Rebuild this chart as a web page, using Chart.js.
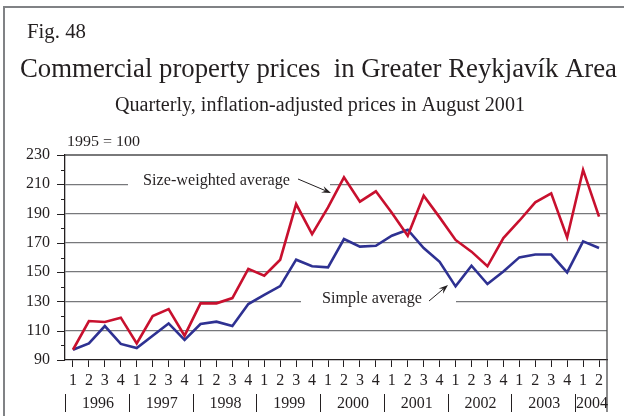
<!DOCTYPE html>
<html>
<head>
<meta charset="utf-8">
<script src="https://cdn.jsdelivr.net/npm/chart.js@4.4.1/dist/chart.umd.min.js"></script>
<style>
  html, body { margin: 0; padding: 0; background: #fff; }
  canvas { display: block; }
</style>
</head>
<body>
<canvas id="priceChart" width="624" height="416"></canvas>
<script>
// quarters 1996 Q1 .. 2004 Q2
var quarters = ['1','2','3','4','1','2','3','4','1','2','3','4','1','2','3','4',
                '1','2','3','4','1','2','3','4','1','2','3','4','1','2','3','4','1','2'];
var years = ['1996','1997','1998','1999','2000','2001','2002','2003','2004'];

var sizeWeighted = [97, 116.6, 116, 118.9, 101.3, 120, 124.8, 106.6, 128.7, 128.7, 132.3, 152.2,
                    147.6, 158.5, 196.5, 176, 194.2, 214.7, 198.1, 205.2, 190.6, 174.9, 202.2, 187.4,
                    172, 164, 154, 173.3, 185.1, 197.7, 203.8, 173.7, 219.8, 187.9];
var simpleAvg = [97, 101.3, 113.2, 101, 98.2, 106.6, 115, 103.7, 114.6, 116.2, 113.2, 128.2,
                 134.4, 140.5, 158.5, 154, 153.3, 172.6, 167.4, 168, 174.9, 179, 166.5, 157.1,
                 140.3, 154.4, 141.9, 150.5, 160.1, 162, 162, 149.8, 171, 166.5];

var yMin = 90, yMax = 230;

var serif = "'Liberation Serif', 'Times New Roman', serif";
var txtColor = '#231f20';
var gridColor = '#77787b';

// draws text, optionally squeezed/stretched to a given width
function label(ctx, str, x, y, size, align, fitWidth) {
  ctx.save();
  ctx.font = size + 'px ' + serif;
  ctx.fillStyle = txtColor;
  ctx.textBaseline = 'alphabetic';
  ctx.textAlign = align || 'left';
  ctx.translate(x, y);
  if (fitWidth) ctx.scale(fitWidth / ctx.measureText(str).width, 1);
  ctx.fillText(str, 0, 0);
  ctx.restore();
}

function arrow(ctx, x1, y1, x2, y2) {
  var a = Math.atan2(y2 - y1, x2 - x1);
  ctx.save();
  ctx.strokeStyle = txtColor;
  ctx.fillStyle = txtColor;
  ctx.lineWidth = 1;
  ctx.beginPath();
  ctx.moveTo(x1, y1);
  ctx.lineTo(x2 - 6 * Math.cos(a), y2 - 6 * Math.sin(a));
  ctx.stroke();
  ctx.beginPath();
  ctx.moveTo(x2, y2);
  ctx.lineTo(x2 - 10 * Math.cos(a - 0.35), y2 - 10 * Math.sin(a - 0.35));
  ctx.lineTo(x2 - 6 * Math.cos(a), y2 - 6 * Math.sin(a));
  ctx.lineTo(x2 - 10 * Math.cos(a + 0.35), y2 - 10 * Math.sin(a + 0.35));
  ctx.closePath();
  ctx.fill();
  ctx.restore();
}

var decor = {
  id: 'decor',
  beforeDatasetsDraw: function(chart) {
    var ctx = chart.ctx, y = chart.scales.y;
    // gaps in the grid lines behind the series labels
    ctx.save();
    ctx.fillStyle = '#fff';
    ctx.fillRect(128, y.getPixelForValue(210) - 2, 202, 4);
    ctx.fillRect(301, y.getPixelForValue(130) - 2, 155, 4);
    ctx.restore();
  },
  afterDraw: function(chart) {
    var ctx = chart.ctx, a = chart.chartArea;
    var x = chart.scales.x, y = chart.scales.y;

    ctx.save();
    // outer frame
    ctx.strokeStyle = '#808285';
    ctx.lineWidth = 2;
    ctx.beginPath();
    ctx.moveTo(4, 416);
    ctx.lineTo(4, 7);
    ctx.lineTo(624, 7);
    ctx.stroke();

    // plot box top and right (right runs down through the year row)
    ctx.strokeStyle = '#4d4d4f';
    ctx.lineWidth = 1.3;
    ctx.beginPath();
    ctx.moveTo(a.left, a.top);
    ctx.lineTo(a.right, a.top);
    ctx.lineTo(a.right, 412);
    ctx.stroke();

    // y tick marks, long on labelled values
    ctx.strokeStyle = txtColor;
    ctx.lineWidth = 1;
    for (var v = yMin; v <= yMax; v += 10) {
      var py = Math.round(y.getPixelForValue(v)) + 0.5;
      var len = (v - yMin) % 20 === 0 ? 8 : 4;
      ctx.beginPath();
      ctx.moveTo(a.left - len, py);
      ctx.lineTo(a.left, py);
      ctx.stroke();
    }

    // year separators and labels
    for (var k = 0; k < years.length; k++) {
      var i0 = k * 4;
      var left = k === 0 ? a.left : (x.getPixelForValue(i0 - 1) + x.getPixelForValue(i0)) / 2;
      var i1 = Math.min(i0 + 4, quarters.length);
      var right = i1 >= quarters.length ? a.right : (x.getPixelForValue(i1 - 1) + x.getPixelForValue(i1)) / 2;
      ctx.beginPath();
      ctx.moveTo(Math.round(left) + 0.5, 394);
      ctx.lineTo(Math.round(left) + 0.5, 412);
      ctx.stroke();
      label(ctx, years[k], (left + right) / 2 + 1, 408, 16, 'center');
    }
    ctx.restore();

    // headings
    label(ctx, 'Fig. 48', 27, 38, 22, 'left', 59);
    label(ctx, 'Commercial property prices  in Greater Reykjavík Area', 20, 77, 28, 'left', 597);
    label(ctx, 'Quarterly, inflation-adjusted prices in August 2001', 115, 111, 20, 'left', 410);
    label(ctx, '1995 = 100', 67, 146, 14, 'left', 73);

    // series labels
    label(ctx, 'Size-weighted average', 143, 185, 17, 'left', 147);
    arrow(ctx, 298, 179, 331, 193);
    label(ctx, 'Simple average', 322, 303, 17, 'left', 100);
    arrow(ctx, 429, 301, 448, 285);
  }
};

new Chart(document.getElementById('priceChart'), {
  type: 'line',
  data: {
    labels: quarters,
    datasets: [
      { label: 'Size-weighted average', data: sizeWeighted, borderColor: '#c8102e',
        borderWidth: 2.6, pointRadius: 0, tension: 0 },
      { label: 'Simple average', data: simpleAvg, borderColor: '#2e3192',
        borderWidth: 2.6, pointRadius: 0, tension: 0 }
    ]
  },
  options: {
    responsive: false,
    animation: false,
    layout: { padding: { top: 155, right: 17, left: 0, bottom: 0 } },
    plugins: { legend: { display: false }, tooltip: { enabled: false } },
    scales: {
      x: {
        offset: true,
        grid: { drawOnChartArea: false, tickLength: 7, color: txtColor, lineWidth: 1 },
        border: { color: txtColor, width: 1.3 },
        ticks: { autoSkip: false, maxRotation: 0, padding: 4, color: txtColor,
                 font: { family: serif, size: 16 } },
        afterFit: function(s) { s.height = 56; }
      },
      y: {
        min: yMin,
        max: yMax,
        grid: {
          drawTicks: false,
          lineWidth: 1.3,
          color: function(c) {
            var v = c.tick.value;
            return (v > yMin && v < yMax && (v - yMin) % 20 === 0) ? gridColor : 'rgba(0,0,0,0)';
          }
        },
        border: { color: txtColor, width: 1.3 },
        ticks: {
          stepSize: 10,
          padding: 15,
          color: txtColor,
          font: { family: serif, size: 16 },
          callback: function(v) { return (v - yMin) % 20 === 0 ? v : ''; }
        },
        afterFit: function(s) { s.width = 65; }
      }
    }
  },
  plugins: [decor]
});
</script>
</body>
</html>
